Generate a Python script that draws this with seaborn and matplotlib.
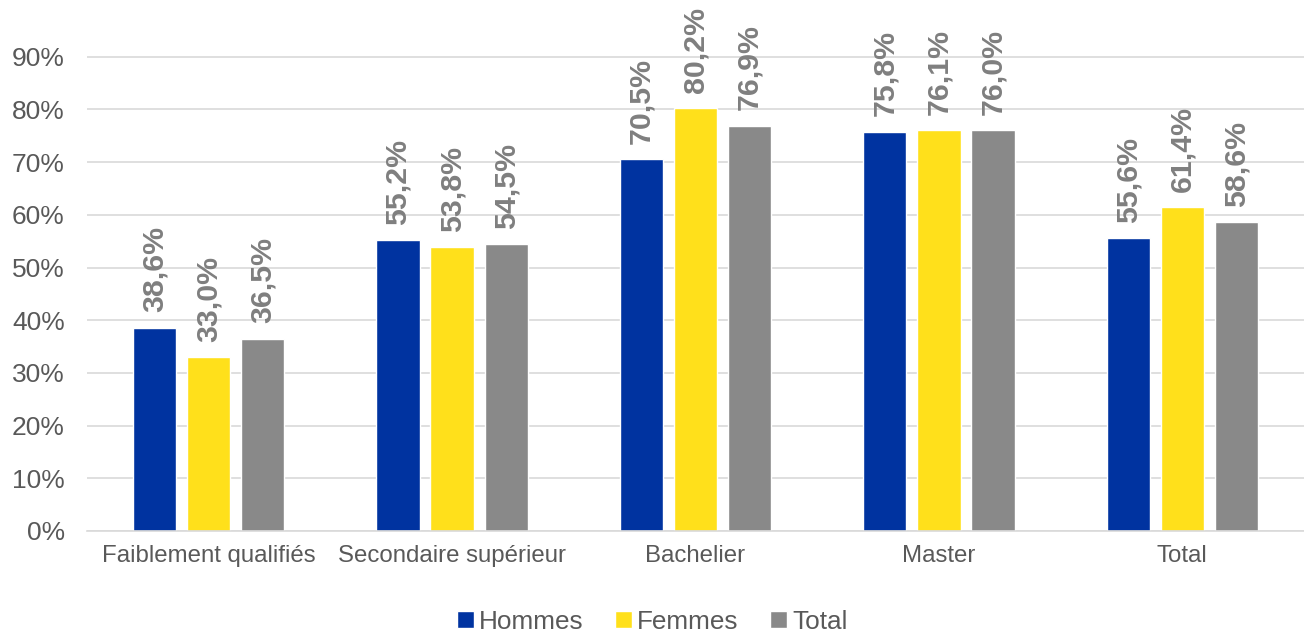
import matplotlib
matplotlib.use("Agg")
import matplotlib.pyplot as plt
import seaborn as sns
import pandas as pd
from matplotlib.ticker import FuncFormatter

categories = ["Faiblement qualifiés", "Secondaire supérieur", "Bachelier", "Master", "Total"]
series = ["Hommes", "Femmes", "Total"]
hommes = [38.6, 55.2, 70.5, 75.8, 55.6]
femmes = [33.0, 53.8, 80.2, 76.1, 61.4]
total = [36.5, 54.5, 76.9, 76.0, 58.6]
colors = ["#0033A0", "#FFE01B", "#898989"]

rows = []
for s, vals in zip(series, [hommes, femmes, total]):
    for c, v in zip(categories, vals):
        rows.append({"cat": c, "serie": s, "val": v / 100})
df = pd.DataFrame(rows)

sns.set_theme(style="white")
plt.rcParams["font.family"] = ["Liberation Sans", "DejaVu Sans"]

fig = plt.figure(figsize=(13.04, 6.32), dpi=100)
ax = fig.add_axes([87 / 1304, 101 / 632, 1 - 87 / 1304, 527 / 632])

sns.barplot(data=df, x="cat", y="val", hue="serie", order=categories,
            hue_order=series, palette=colors, width=0.666, gap=0.2,
            saturation=1, ax=ax, legend=True)

for cont, s in zip(ax.containers, series):
    labels = [f"{v * 100:.1f}%".replace(".", ",") for v in cont.datavalues]
    ax.bar_label(cont, labels=labels, rotation=90, padding=11,
                 color="#7F7F7F", fontsize=21.8, fontweight="bold")

ax.set_ylim(0, 1.0)
ax.set_yticks([i / 10 for i in range(10)])
ax.yaxis.set_major_formatter(FuncFormatter(lambda v, p: f"{v * 100:.0f}%"))
ax.set_xlim(-0.5, len(categories) - 0.5)
ax.grid(axis="y", color="#D9D9D9", linewidth=1.2)
ax.set_axisbelow(True)
for sp in ["top", "right", "left"]:
    ax.spines[sp].set_visible(False)
ax.spines["bottom"].set_color("#D9D9D9")
ax.spines["bottom"].set_linewidth(1.2)
ax.tick_params(axis="y", labelsize=19, labelcolor="#595959", length=0, pad=16)
ax.tick_params(axis="x", labelsize=17.3, labelcolor="#595959", length=0, pad=10)
ax.set_xlabel("")
ax.set_ylabel("")

handles, labs = ax.get_legend_handles_labels()
ax.get_legend().remove()
fig.legend(handles, labs, loc="center", bbox_to_anchor=(0.5, 0.016),
           ncol=3, frameon=False, fontsize=18.8, labelcolor="#595959",
           handlelength=0.65, handleheight=0.65, handletextpad=0.2,
           columnspacing=1.2)

fig.savefig("out.png", dpi=100)
